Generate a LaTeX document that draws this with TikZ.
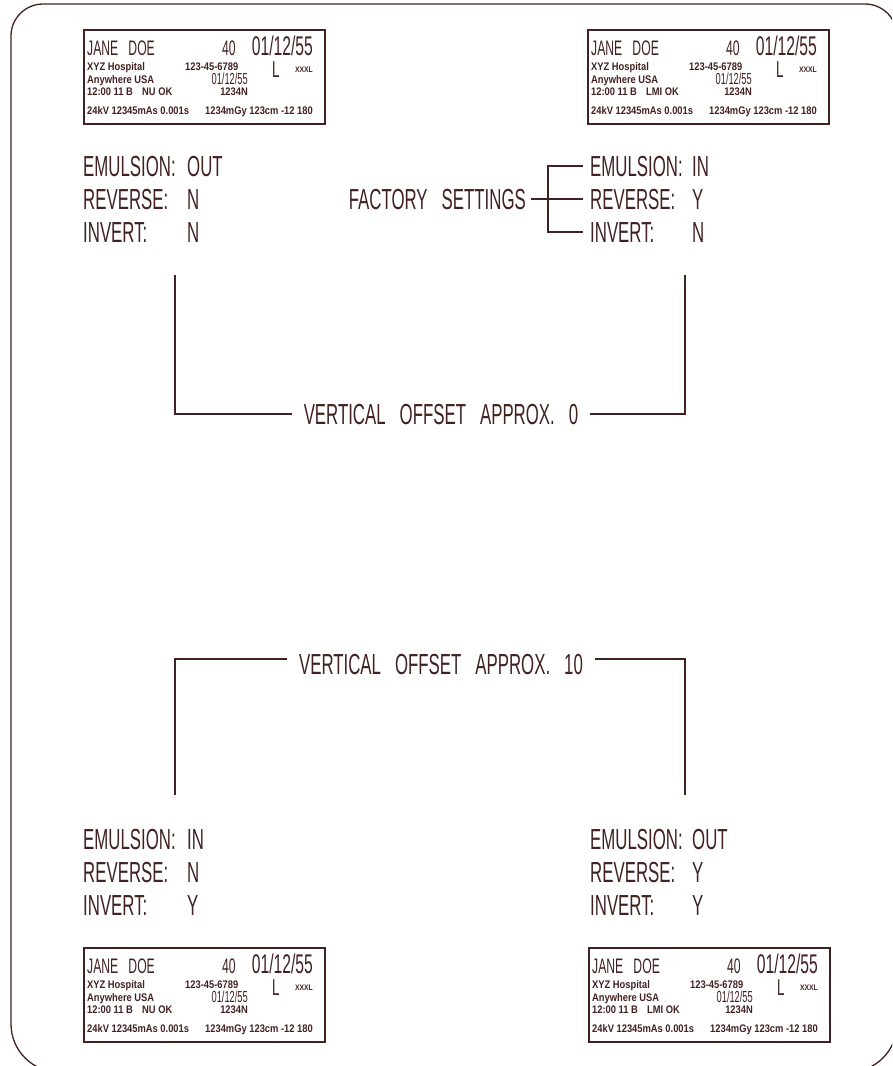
\documentclass[tikz,border=0pt]{standalone}
\usepackage{fontspec}
\newfontfamily\cadfont{Liberation Sans}[FakeStretch=0.58,WordSpace=3]
\newfontfamily\cardfont{Liberation Sans}[FakeStretch=0.85]
\definecolor{cadink}{RGB}{66,33,33}
\tikzset{
  ink/.style={draw=cadink, line width=1.3pt},
  big/.style={inner sep=0pt, text=cadink, font=\cadfont\fontsize{29}{30}\selectfont},
  cardname/.style={inner sep=0pt, text=cadink, font=\cadfont\fontsize{21}{22}\selectfont},
  carddate/.style={inner sep=0pt, text=cadink, font=\cadfont\fontsize{27}{28}\selectfont},
  cardmid/.style={inner sep=0pt, text=cadink, font=\cadfont\fontsize{16}{17}\selectfont},
  cardside/.style={inner sep=0pt, text=cadink, font=\cadfont\fontsize{23}{24}\selectfont},
  cardsmall/.style={inner sep=0pt, text=cadink, font=\cardfont\bfseries\fontsize{11}{12}\selectfont},
  cardtiny/.style={inner sep=0pt, text=cadink, font=\cardfont\bfseries\fontsize{8}{9}\selectfont}
}
% #1 prefix, #2 #3 top left corner, #4 status text
\newcommand{\patientcard}[4]{%
  \begin{scope}[shift={(#2,#3)}]
    \draw[ink] (0,0) rectangle (241,94);
    \node[cardname, anchor=base west] (#1name) at (3,25) {JANE DOE};
    \node[cardname, anchor=base west] (#1age) at (138,25) {40};
    \node[carddate, anchor=base east] (#1dob) at (229,25) {01/12/55};
    \node[cardsmall, anchor=base west] (#1hosp) at (3,40) {XYZ Hospital};
    \node[cardsmall, anchor=base west] (#1id) at (101,40) {123-45-6789};
    \node[cardside, anchor=base west] (#1side) at (188,47) {L};
    \node[cardtiny, anchor=base east] (#1size) at (229,42) {XXXL};
    \node[cardsmall, anchor=base west] (#1town) at (3,53) {Anywhere USA};
    \node[cardmid, anchor=base east] (#1date) at (164,54) {01/12/55};
    \node[cardsmall, anchor=base west] (#1time) at (3,65) {12:00 11 B};
    \node[cardsmall, anchor=base west] (#1stat) at (58,65) {#4};
    \node[cardsmall, anchor=base east] (#1acc) at (164,65) {1234N};
    \node[cardsmall, anchor=base west] (#1tech) at (3,84) {24kV 12345mAs 0.001s};
    \node[cardsmall, anchor=base east] (#1dose) at (229,84) {1234mGy 123cm -12 180};
  \end{scope}}
% #1 prefix, #2 label x, #3 value x, #4 first baseline, #5-#7 values
\newcommand{\settingblock}[7]{%
  \node[big, anchor=base west] (#1em) at (#2,#4) {EMULSION:};
  \node[big, anchor=base west] (#1rv) at (#2,#4+33) {REVERSE:};
  \node[big, anchor=base west] (#1in) at (#2,#4+66) {INVERT:};
  \node[big, anchor=base west] (#1emv) at (#3,#4) {#5};
  \node[big, anchor=base west] (#1rvv) at (#3,#4+33) {#6};
  \node[big, anchor=base west] (#1inv) at (#3,#4+66) {#7};}
\begin{document}
\begin{tikzpicture}[x=1pt,y=-1pt]
  \useasboundingbox (0,0) rectangle (892,1066);
  \clip (0,0) rectangle (892,1066);

  % outer frame
  \draw[ink] (11,500) [rounded corners=32pt] -- (11,4) -- (897,4)
    [rounded corners=48pt] -- (897,1072) -- (11,1072) -- (11,500);

  \patientcard{tl}{84}{30}{NU OK}
  \patientcard{tr}{588}{30}{LMI OK}
  \patientcard{bl}{84}{948}{NU OK}
  \patientcard{br}{589}{948}{LMI OK}

  \settingblock{tl}{83}{187}{176}{OUT}{N}{N}
  \settingblock{tr}{590}{692}{176}{IN}{Y}{N}
  \settingblock{bl}{83}{187}{849}{IN}{N}{Y}
  \settingblock{br}{590}{692}{849}{OUT}{Y}{Y}

  % factory settings bracket
  \node[big, anchor=base east] (fs) at (526,209) {FACTORY SETTINGS};
  \coordinate (fsbrk) at (548,200);
  \draw[ink, shorten <=5pt, shorten >=7pt] (fs.east) -- (trrv.west);
  \draw[ink] ([xshift=-7pt]trem.west) -| (fsbrk) |- ([xshift=-7pt]trin.west);

  % offsets
  \node[big, anchor=base, inner xsep=12pt] (off0) at (441,424) {VERTICAL OFFSET APPROX. 0};
  \coordinate (off0L) at (175,275);
  \coordinate (off0R) at (685,275);
  \draw[ink] (off0L) |- (off0.west);
  \draw[ink] (off0.east) -| (off0R);

  \node[big, anchor=base, inner xsep=12pt] (off10) at (441,674) {VERTICAL OFFSET APPROX. 10};
  \coordinate (off10L) at (175,795);
  \coordinate (off10R) at (685,795);
  \coordinate (off10y) at (0,659);
  \draw[ink] (off10L) |- (off10.west |- off10y);
  \draw[ink] (off10.east |- off10y) -| (off10R);
\end{tikzpicture}
\end{document}
